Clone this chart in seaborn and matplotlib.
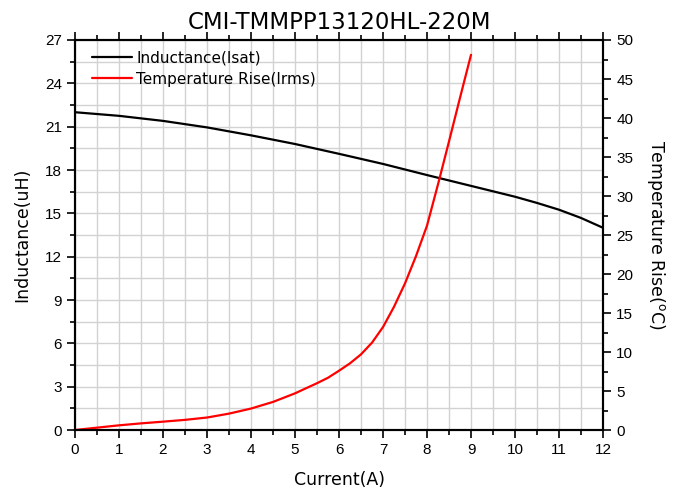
import matplotlib
matplotlib.use("Agg")
import matplotlib.pyplot as plt
import seaborn as sns
import pandas as pd
from matplotlib.ticker import MultipleLocator

# Inductance vs current (Isat)
current_l = [0, 1, 2, 3, 4, 5, 6, 7, 8, 9, 10, 10.5, 11, 11.5, 12]
inductance = [22.0, 21.75, 21.4, 20.95, 20.4, 19.8, 19.12, 18.42, 17.65, 16.9, 16.15,
              15.72, 15.25, 14.68, 14.0]

# Temperature rise vs current (Irms)
current_t = [0, 0.5, 1, 1.5, 2, 2.5, 3, 3.5, 4, 4.5, 5, 5.5, 5.75, 6, 6.25, 6.5,
             6.75, 7, 7.25, 7.5, 7.75, 8, 8.25, 8.5, 8.75, 9]
temp_rise = [0, 0.3, 0.6, 0.85, 1.07, 1.3, 1.6, 2.1, 2.75, 3.6, 4.7, 6.0, 6.7, 7.6,
             8.55, 9.7, 11.2, 13.2, 15.8, 18.8, 22.3, 26.2, 31.5, 37.0, 42.6, 48.1]

df_l = pd.DataFrame({"Current": current_l, "Inductance": inductance})
df_t = pd.DataFrame({"Current": current_t, "Temp": temp_rise})

sns.set_style("white")
plt.rcParams["text.color"] = "black"
plt.rcParams["axes.labelcolor"] = "black"
label_font = "DejaVu Sans"
tick_font = "Liberation Sans"

fig = plt.figure(figsize=(6.83, 4.92), dpi=100)
ax = fig.add_axes([0.1098, 0.126, 0.7731, 0.7927])
ax2 = ax.twinx()

sns.lineplot(data=df_l, x="Current", y="Inductance", ax=ax, color="black",
             linewidth=1.6, label="Inductance(Isat)", legend=False)
sns.lineplot(data=df_t, x="Current", y="Temp", ax=ax2, color="#ff0000",
             linewidth=1.6, label="Temperature Rise(Irms)", legend=False)

ax.set_xlim(0, 12)
ax.set_ylim(0, 27)
ax2.set_ylim(0, 50)

ax.xaxis.set_major_locator(MultipleLocator(1))
ax.xaxis.set_minor_locator(MultipleLocator(0.5))
ax.yaxis.set_major_locator(MultipleLocator(3))
ax.yaxis.set_minor_locator(MultipleLocator(1.5))
ax2.yaxis.set_major_locator(MultipleLocator(5))
ax2.yaxis.set_minor_locator(MultipleLocator(2.5))

# grid
ax.grid(True, which="both", color="#d2d2d2", linewidth=1.0)
ax.set_axisbelow(True)

for a in (ax, ax2):
    for s in a.spines.values():
        s.set_color("black")
        s.set_linewidth(1.5)
        s.set_visible(True)

ax.tick_params(axis="both", which="major", direction="out", length=6, width=1.2,
               colors="black", labelsize=11, top=True, bottom=True, left=True)
ax.tick_params(axis="both", which="minor", direction="out", length=3.5, width=1.2,
               colors="black", top=True, bottom=True, left=True)
ax2.tick_params(axis="y", which="major", direction="out", length=6, width=1.2,
                colors="black", labelsize=11, right=True)
ax2.tick_params(axis="y", which="minor", direction="out", length=3.5, width=1.2,
                colors="black", right=True)

for lab in ax.get_xticklabels() + ax.get_yticklabels() + ax2.get_yticklabels():
    lab.set_fontfamily(tick_font)

ax.set_xlabel("Current(A)", fontsize=12.5, family=label_font, labelpad=10, color="black")
ax.set_ylabel("Inductance(uH)", fontsize=12.5, family=label_font, labelpad=10, color="black")
ax2.set_ylabel("Temperature Rise($^{\\mathrm{o}}$C)", fontsize=12.5, family=label_font,
               rotation=270, labelpad=24, color="black")
ax.set_title("CMI-TMMPP13120HL-220M", fontsize=16.5, family=label_font, pad=8, color="black")

h1, l1 = ax.get_legend_handles_labels()
h2, l2 = ax2.get_legend_handles_labels()
leg = ax2.legend(h1 + h2, l1 + l2, loc="upper left", frameon=False,
                 prop={"family": label_font, "size": 11}, handlelength=2.6,
                 handletextpad=0.3, labelspacing=0.4, borderaxespad=0.3,
                 bbox_to_anchor=(0.012, 1.0))
for t in leg.get_texts():
    t.set_color("black")

fig.savefig("out.png", dpi=100)
